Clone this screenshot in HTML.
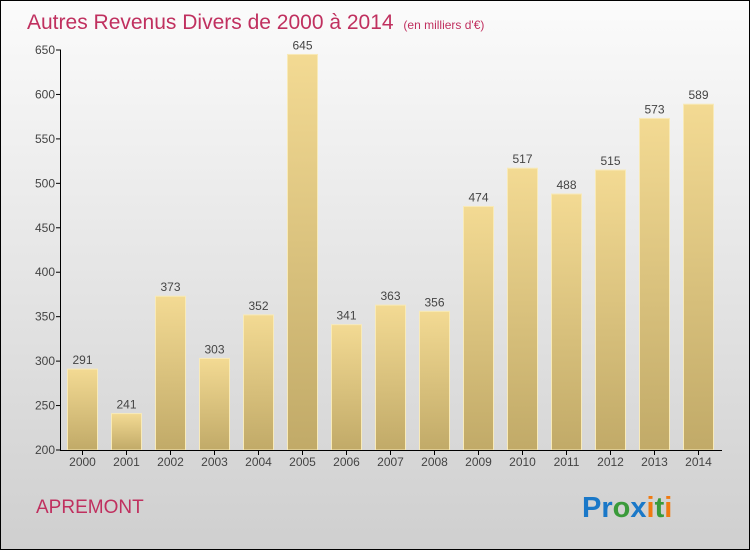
<!DOCTYPE html>
<html><head><meta charset="utf-8"><style>
body{margin:0;width:750px;height:550px;overflow:hidden;font-family:"Liberation Sans",sans-serif}
</style></head><body>
<svg width="750" height="550" xmlns="http://www.w3.org/2000/svg">
<defs>
<linearGradient id="bg" x1="0" y1="0" x2="0" y2="1"><stop offset="0" stop-color="#fbfbfb"/><stop offset="1" stop-color="#cfcfcf"/></linearGradient>
<linearGradient id="bar" x1="0" y1="0" x2="0" y2="1"><stop offset="0" stop-color="#f3da93"/><stop offset="1" stop-color="#c1aa68"/></linearGradient>
</defs>
<rect x="0.5" y="0.5" width="749" height="549" fill="url(#bg)" stroke="#000"/>
<text x="27" y="29" font-size="21" fill="#c0305f">Autres Revenus Divers de 2000 à 2014 <tspan font-size="12" dx="4">(en milliers d'€)</tspan></text>
<g id="grid"></g>
<g id="bars"></g>
<line x1="60.5" y1="50" x2="60.5" y2="450" stroke="#000"/>
<line x1="60" y1="450.5" x2="722" y2="450.5" stroke="#000"/>
<g id="ticks" font-size="12" fill="#444"></g>
<text x="36" y="513" font-size="19" fill="#c0305f">APREMONT</text>
<text x="582" y="517" font-size="29" font-weight="bold"><tspan fill="#1a78c8">Pr</tspan><tspan fill="#3a9a3a">o</tspan><tspan fill="#1a78c8">x</tspan><tspan fill="#f07a10">i</tspan><tspan fill="#3a9a3a">t</tspan><tspan fill="#f07a10">i</tspan></text>
</svg>
<script>
const years=["2000","2001","2002","2003","2004","2005","2006","2007","2008","2009","2010","2011","2012","2013","2014"];
const values=[291,241,373,303,352,645,341,363,356,474,517,488,515,573,589];
const yTicks=[200,250,300,350,400,450,500,550,600,650];
const NS="http://www.w3.org/2000/svg";
const y=v=>450-(v-200)*400/450;
const x=i=>82.5+i*44;
const bars=document.getElementById('bars'),ticks=document.getElementById('ticks');
function mk(t,a,p){const e=document.createElementNS(NS,t);for(const k in a)e.setAttribute(k,a[k]);p.appendChild(e);return e;}
yTicks.forEach(v=>{
 const l=mk('line',{x1:56,x2:61,y1:y(v),y2:y(v),stroke:'#000'},ticks);
 
 
 const t=mk('text',{x:55,y:y(v)+4,'text-anchor':'end'},ticks);t.textContent=v;
 
 
});
years.forEach((yr,i)=>{
 const r=mk('rect',{x:x(i)-15,y:y(values[i]),width:30,height:450-y(values[i]),fill:'url(#bar)',stroke:'#f8eab8','stroke-width':1},bars);
 
 
 const v=mk('text',{x:x(i),y:y(values[i])-5,'text-anchor':'middle','font-size':12,fill:'#444'},bars);v.textContent=values[i];
 
 
 const tk=mk('line',{x1:x(i),x2:x(i),y1:450,y2:455,stroke:'#000'},ticks);
 
 
 const t=mk('text',{x:x(i),y:466,'text-anchor':'middle'},ticks);t.textContent=yr;
 
 
});
</script>
</body></html>
